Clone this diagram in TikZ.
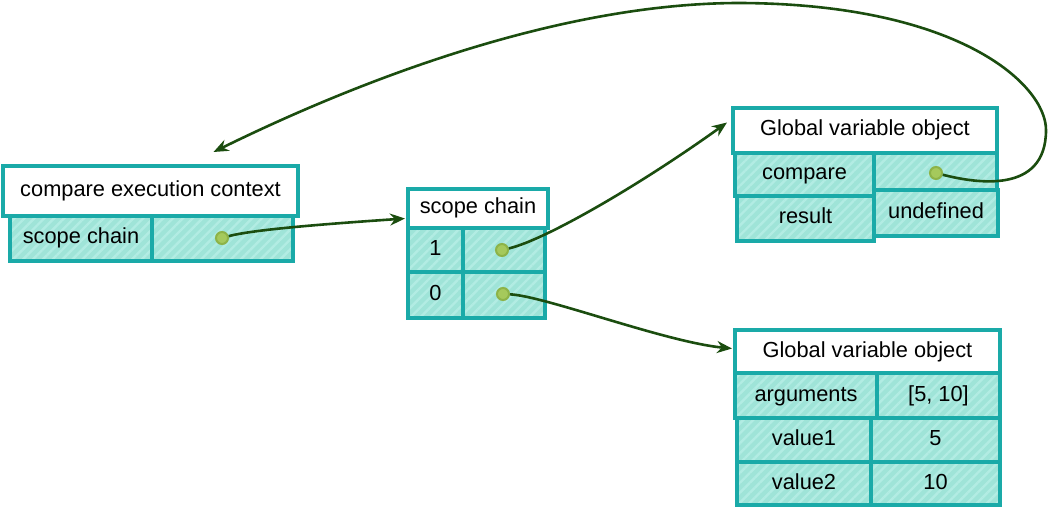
\documentclass[tikz,border=0pt]{standalone}
\usepackage{fontspec}
\setmainfont{Liberation Sans}
\usetikzlibrary{arrows.meta,calc,patterns.meta}
\definecolor{tealb}{HTML}{1AAAA8}
\definecolor{cellfill}{HTML}{9FE4D8}
\definecolor{stripe}{HTML}{B2ECE3}
\definecolor{ptrgreen}{HTML}{1B4D0F}
\definecolor{dotfill}{HTML}{A5C95C}
\definecolor{dotline}{HTML}{8DB348}
\begin{document}
\begin{tikzpicture}[x=1pt,y=-1pt,
  box/.style={draw=tealb,line width=3.4pt,inner sep=0pt,outer sep=0pt,
    font=\fontsize{21.8}{26}\selectfont,text=black,text height=15.5pt,text depth=4.5pt},
  head/.style={box,fill=white},
  cell/.style={box,preaction={fill=cellfill},
    pattern={Lines[angle=45,distance=7pt,line width=2.4pt]},pattern color=stripe},
  dot/.style={circle,fill=dotfill,draw=dotline,line width=2pt,minimum size=12pt,inner sep=0pt},
  ptr/.style={draw=ptrgreen,line width=2.6pt,-{Stealth[length=15pt,width=12pt]}}]
\useasboundingbox (0,0) rectangle (1048,510);
% Box A
\node[head,minimum width=295pt,minimum height=50pt] (Ah) at (150.5,191) {compare execution context};
\node[cell,minimum width=142pt,minimum height=45pt] (Al) at (81,238.5) {scope chain};
\node[cell,minimum width=141pt,minimum height=45pt] (Ar) at (222.5,238.5) {};
% Box B
\node[head,minimum width=140pt,minimum height=39pt] (Bh) at (478,208.5) {scope chain};
\node[cell,minimum width=55pt,minimum height=44pt] (B1l) at (435.5,250) {1};
\node[cell,minimum width=82pt,minimum height=44pt] (B1r) at (504,250) {};
\node[cell,minimum width=55pt,minimum height=46pt] (B0l) at (435.5,295) {0};
\node[cell,minimum width=82pt,minimum height=46pt] (B0r) at (504,295) {};
% Box C
\node[head,minimum width=264pt,minimum height=45pt] (Ch) at (865,130.5) {Global variable object};
\node[cell,minimum width=139pt,minimum height=43pt] (Ccl) at (804.5,174.5) {compare};
\node[cell,minimum width=123pt,minimum height=37pt] (Ccr) at (935.5,171.5) {};
\node[cell,minimum width=137pt,minimum height=45pt] (Crl) at (805.5,218.5) {result};
\node[cell,minimum width=124pt,minimum height=46pt] (Crr) at (936,213) {undefined};
% Box D
\node[head,minimum width=265pt,minimum height=43pt] (Dh) at (867.5,351.5) {Global variable object};
\node[cell,minimum width=142pt,minimum height=45pt] (Dal) at (806,395.5) {arguments};
\node[cell,minimum width=123pt,minimum height=45pt] (Dar) at (938.5,395.5) {[5, 10]};
\node[cell,minimum width=134pt,minimum height=44pt] (D1l) at (804,440) {value1};
\node[cell,minimum width=129pt,minimum height=44pt] (D1r) at (935.5,440) {5};
\node[cell,minimum width=134pt,minimum height=43pt] (D2l) at (804,483.5) {value2};
\node[cell,minimum width=129pt,minimum height=43pt] (D2r) at (935.5,483.5) {10};
% dots
\node[dot] (dA) at (222,238) {};
\node[dot] (dB1) at (502,250) {};
\node[dot] (dB0) at (503,294) {};
\node[dot] (dC) at (936,173) {};
% pointers
\draw[ptr] (dA) .. controls (255,229) and (340,223) .. ($(Bh.west)+(-3,10)$);
\draw[ptr] (dB1) .. controls (545,240) and (640,185) .. ($(Ch.west)+(-6,-8)$);
\draw[ptr] (dB0) .. controls (545,296) and (665,342) .. ($(Dh.west)+(-3,-3)$);
\draw[ptr] (dC) .. controls (975,183) and (1046,195) .. (1046,130)
  .. controls (1046,85) and (960,4) .. (740,3)
  .. controls (560,3) and (360,80) .. ($(Ah.north)+(63,-14)$);
\end{tikzpicture}
\end{document}
